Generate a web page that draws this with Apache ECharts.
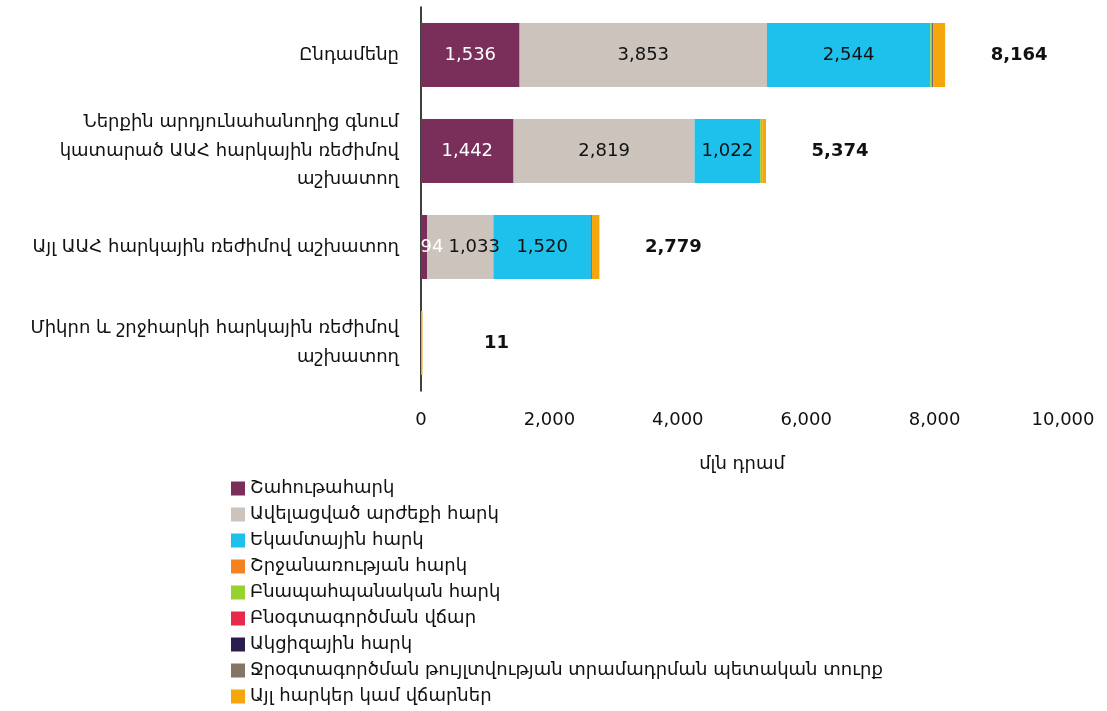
<!DOCTYPE html>
<html>
<head>
<meta charset="utf-8">
<script src="https://cdn.jsdelivr.net/npm/echarts@6/dist/echarts.min.js"></script>
<style>
  html, body { margin: 0; padding: 0; background: #fff; }
  #chart { width: 1107px; height: 711px; }
</style>
</head>
<body>
<div id="chart"></div>
<script>
var categories = [
  'Ընդամենը',
  'Ներքին արդյունահանողից գնում\nկատարած ԱԱՀ հարկային ռեժիմով\nաշխատող',
  'Այլ ԱԱՀ հարկային ռեժիմով աշխատող',
  'Միկրո և շրջհարկի հարկային ռեժիմով\nաշխատող'
];
var seriesNames = [
  'Շահութահարկ',
  'Ավելացված արժեքի հարկ',
  'Եկամտային հարկ',
  'Շրջանառության հարկ',
  'Բնապահպանական հարկ',
  'Բնօգտագործման վճար',
  'Ակցիզային հարկ',
  'Ջրօգտագործման թույլտվության տրամադրման պետական տուրք',
  'Այլ հարկեր կամ վճարներ'
];
var colors = ['#7a2f5b', '#cbc3bc', '#1ec1ec', '#f58220', '#99d12e', '#e8294b', '#2c1d4f', '#857564', '#f6a60d'];

var profitTax   = [1536, 1442, 94, 0];
var vatTax      = [3853, 2819, 1033, 0];
var incomeTax   = [2544, 1022, 1520, 0];
var turnoverTax = [0, 0, 0, 0];
var envTax      = [32, 32, 0, 0];
var resourceFee = [0, 0, 0, 0];
var exciseTax   = [12, 0, 12, 0];
var waterFee    = [0, 0, 0, 0];
var otherTax    = [187, 59, 120, 11];
var totals      = [8164, 5374, 2779, 11];

var seriesData = [profitTax, vatTax, incomeTax, turnoverTax, envTax, resourceFee, exciseTax, waterFee, otherTax];

var fmt = function (v) { return v.toLocaleString('en-US'); };
var font = 'DejaVu Sans, Noto Sans, sans-serif';

// nudge the crowded labels in the third bar so they don't overlap
var labelNudge = { '0-2': [8, 0], '1-2': [14, 0] };

var series = seriesData.map(function (d, i) {
  var s = {
    name: seriesNames[i],
    type: 'bar',
    stack: 'all',
    barWidth: 64,
    data: d.map(function (v, j) {
      var off = labelNudge[i + '-' + j];
      return off ? { value: v, label: { offset: off } } : v;
    }),
    itemStyle: { color: colors[i] }
  };
  if (i < 3) {
    s.label = {
      show: true,
      position: 'inside',
      fontFamily: font,
      fontSize: 18,
      color: i === 0 ? '#fff' : '#111',
      formatter: function (p) { return p.value ? fmt(p.value) : ''; }
    };
  }
  if (i === 8) {
    // totals at the end of each bar
    s.barMinHeight = 1.5;
    s.label = {
      show: true,
      position: 'right',
      distance: 74,
      align: 'center',
      fontFamily: font,
      fontSize: 18,
      fontWeight: 'bold',
      color: '#111',
      formatter: function (p) { return fmt(totals[p.dataIndex]); }
    };
  }
  return s;
});

var chart = echarts.init(document.getElementById('chart'));
chart.setOption({
  animation: false,
  color: colors,
  grid: { left: 421, right: 44, top: 7, bottom: 320, containLabel: false },
  legend: {
    orient: 'vertical',
    left: 226,
    top: 473,
    height: 240,
    itemWidth: 14,
    itemHeight: 14,
    itemGap: 5,
    icon: 'rect',
    data: seriesNames,
    textStyle: { fontFamily: font, fontSize: 18, color: '#111', lineHeight: 21 }
  },
  xAxis: {
    type: 'value',
    min: 0,
    max: 10000,
    interval: 2000,
    name: 'մլն դրամ',
    nameLocation: 'middle',
    nameGap: 64,
    nameTextStyle: { fontFamily: font, fontSize: 18, color: '#111' },
    axisLine: { show: false },
    axisTick: { show: false },
    splitLine: { show: false },
    axisLabel: { fontFamily: font, fontSize: 18, color: '#111', margin: 20, formatter: function (v) { return fmt(v); } }
  },
  yAxis: {
    type: 'category',
    inverse: true,
    data: categories,
    axisLine: { show: true, lineStyle: { color: '#000', width: 1.5 } },
    axisTick: { show: false },
    axisLabel: { fontFamily: font, fontSize: 18, color: '#111', margin: 22, lineHeight: 28.5, align: 'right' }
  },
  series: series
});
</script>
</body>
</html>
